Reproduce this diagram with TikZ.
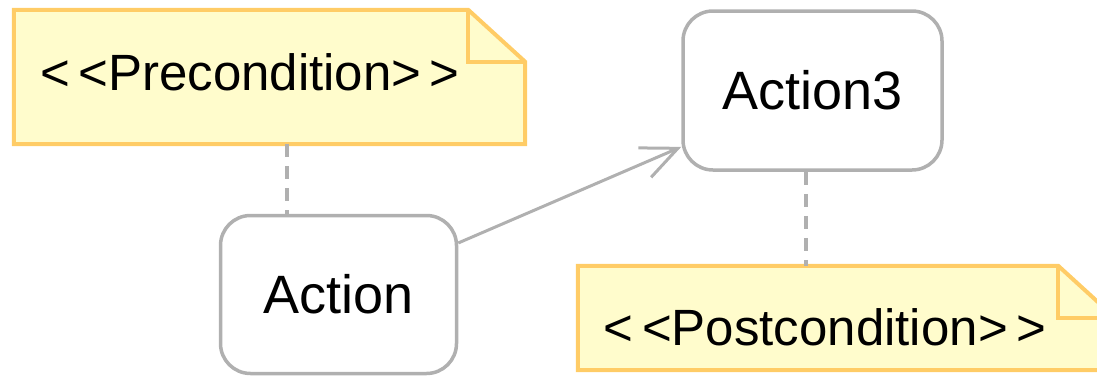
\documentclass[tikz,border=0pt]{standalone}
\usepackage{fontspec}
\setmainfont{Liberation Sans}[Ligatures=TeXOff]
\usetikzlibrary{arrows.meta}
\definecolor{notefill}{HTML}{FFFCCC}
\definecolor{noteline}{HTML}{FFCC66}
\definecolor{actline}{HTML}{B0B0B0}
\tikzset{
  action/.style={draw=actline, line width=3.5pt, rounded corners=30pt, fill=white,
    inner sep=0pt, font=\fontsize{54}{62}\selectfont},
  notebox/.style={inner sep=0pt, font=\fontsize{51}{58}\selectfont},
  noteedge/.style={draw=noteline, fill=notefill, line width=4pt, line join=miter},
  foldedge/.style={draw=noteline, line width=4pt},
  dashlink/.style={draw=actline, line width=3.5pt, dash pattern=on 13pt off 9pt},
  flow/.style={draw=actline, line width=3pt, -{Straight Barb[length=36pt,width=32pt,line width=3pt]}}
}
\begin{document}
\begin{tikzpicture}[x=1pt,y=-1pt]
\useasboundingbox (0,0) rectangle (1097,375);
\clip (0,0) rectangle (1097,375);
% notes (outline boxes)
\node[notebox, minimum width=511pt, minimum height=134pt] (pre) at (269.5,77) {};
\path[noteedge] (pre.north west) -- ([xshift=-57pt]pre.north east) -- ([yshift=-52pt]pre.north east)
  -- (pre.south east) -- (pre.south west) -- cycle;
\path[foldedge] ([xshift=-57pt]pre.north east) |- ([yshift=-52pt]pre.north east);
\node[notebox, anchor=center] (pretext) at (250,72) {<\,<Precondition>\,>};

\node[notebox, minimum width=537pt, minimum height=104pt] (post) at (846.5,318) {};
\path[noteedge] (post.north west) -- ([xshift=-57pt]post.north east) -- ([yshift=-52pt]post.north east)
  -- (post.south east) -- (post.south west) -- cycle;
\path[foldedge] ([xshift=-57pt]post.north east) |- ([yshift=-52pt]post.north east);
\node[notebox] (posttext) at (825,327) {<\,<Postcondition>\,>};

% actions
\node[action, minimum width=236pt, minimum height=158pt] (act) at (338.5,294.5) {Action};
\node[action, minimum width=259pt, minimum height=159pt] (act3) at (812.5,90.5) {Action3};

% connectors
\draw[dashlink] (pre.south -| 287,0) -- (act.north -| 287,0);
\draw[dashlink] (act3.south -| 806,0) -- (post.north -| 806,0);
\draw[flow] (act) -- (act3);
\end{tikzpicture}
\end{document}
